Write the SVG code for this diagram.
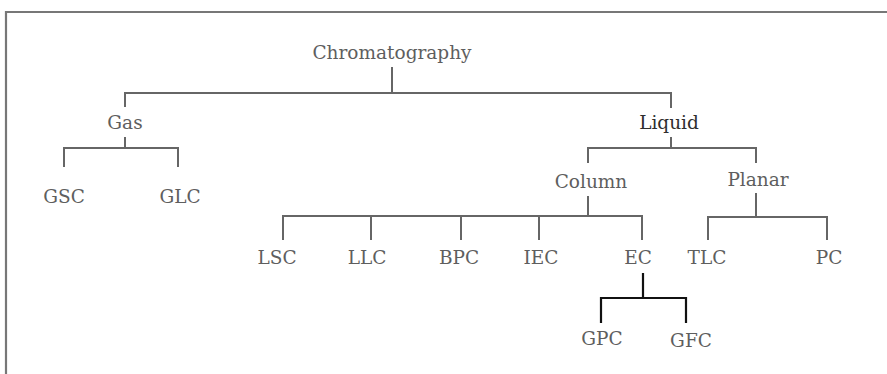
<svg xmlns="http://www.w3.org/2000/svg" width="887" height="374" viewBox="0 0 887 374">
<style>
.t{font-family:"DejaVu Serif","Liberation Serif",serif;font-size:18.5px;fill:#5e5e5e;text-anchor:middle}
.dark{fill:#2e2e2e}
.c{fill:none;stroke:#666;stroke-width:2}
.k{fill:none;stroke:#111;stroke-width:2.2}
.frame{fill:none;stroke:#777;stroke-width:2.2}
</style>
<rect width="887" height="374" fill="#fff"/>
<path class="frame" d="M6 374 V12 H887"/>
<g id="connectors">
<path class="c" d="M392 67 V93 M125 107 V93 H671 V108"/>
<path class="c" d="M125 137 V148 M64 167 V148 H178 V167"/>
<path class="c" d="M671 137 V148 M588 163 V148 H756 V163"/>
<path class="c" d="M588 196 V216 M283 240 V216 H642 V240 M371 216 V240 M461 216 V240 M539 216 V240"/>
<path class="c" d="M756 193 V217 M708 240 V217 H827 V240"/>
<path class="k" d="M643 273 V298 M601 323 V298 H686 V323"/>
</g>
<g id="chromatography"><text class="t" x="392" y="59">Chromatography</text></g>
<g id="gas"><text class="t" x="125" y="129">Gas</text></g>
<g id="liquid"><text class="t dark" x="669" y="129">Liquid</text></g>
<g id="gsc"><text class="t" x="64" y="203">GSC</text></g>
<g id="glc"><text class="t" x="180" y="203">GLC</text></g>
<g id="column"><text class="t" x="591" y="188">Column</text></g>
<g id="planar"><text class="t" x="758" y="186">Planar</text></g>
<g id="lsc"><text class="t" x="277" y="264">LSC</text></g>
<g id="llc"><text class="t" x="367" y="264">LLC</text></g>
<g id="bpc"><text class="t" x="459" y="264">BPC</text></g>
<g id="iec"><text class="t" x="541" y="264">IEC</text></g>
<g id="ec"><text class="t" x="638" y="264">EC</text></g>
<g id="tlc"><text class="t" x="707" y="264">TLC</text></g>
<g id="pc"><text class="t" x="829" y="264">PC</text></g>
<g id="gpc"><text class="t" x="602" y="345">GPC</text></g>
<g id="gfc"><text class="t" x="691" y="347">GFC</text></g>
</svg>
